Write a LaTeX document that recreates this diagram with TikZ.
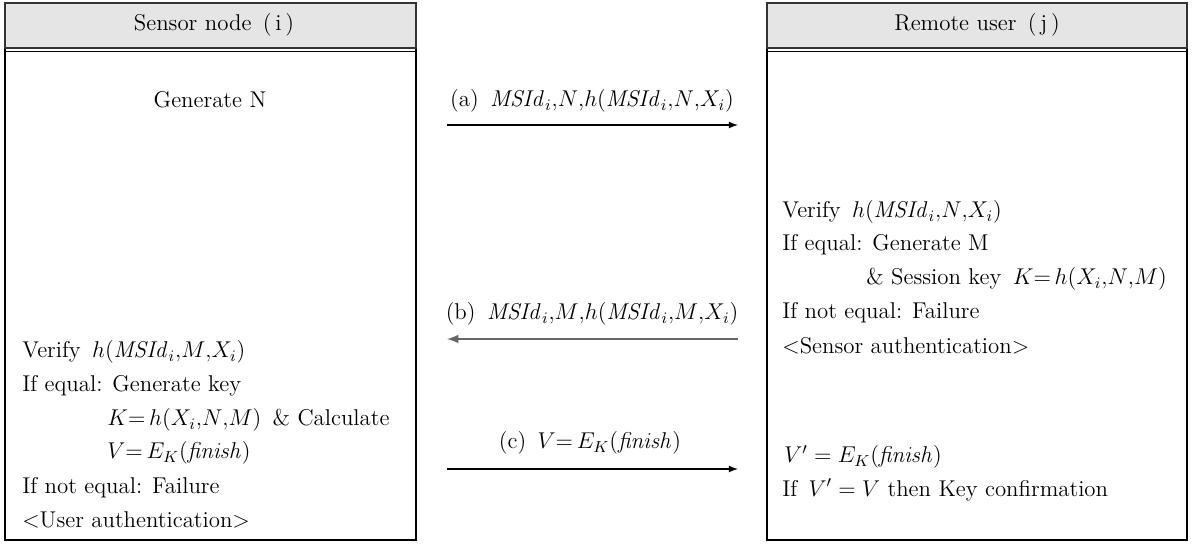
\RequirePackage{fix-cm}
\documentclass[tikz,border=0pt]{standalone}
\usepackage{amsmath}
\usetikzlibrary{calc}

\tikzset{
  headbox/.style={fill=gray!20, draw=black!80, line width=0.6pt},
  txt/.style={anchor=west, inner sep=0pt},
  msglabel/.style={inner sep=0pt},
}
\newcommand{\msid}{\mathit{MSId}_i}
\newcommand{\fin}{\mathit{finish}}

\begin{document}
\begin{tikzpicture}[x=0.02cm, y=-0.02cm, font=\fontsize{13}{16}\selectfont]

\useasboundingbox (0,0) rectangle (1192,546);

% Sensor node (left column)
\draw[line width=0.6pt] (5,3) rectangle (416,540);
\draw[headbox] (5,3) rectangle (416,48);
\draw[line width=0.4pt] (5,51) -- (416,51);
\node (sensorhead) at (214,25) {Sensor node\enspace(\,i\,)};

% Remote user (right column)
\draw[line width=0.6pt] (767,3) rectangle (1187,540);
\draw[headbox] (767,3) rectangle (1187,48);
\draw[line width=0.4pt] (767,51) -- (1187,51);
\node (userhead) at (977,25) {Remote user\enspace(\,j\,)};

% text in sensor column
\node (genN) at (210,100) {Generate N};
\node[txt] (sv1) at (22,352) {Verify\enspace$h({\msid}{,}M{,}X_i)$};
\node[txt] (sv2) at (22,386) {If equal: Generate key};
\node[txt] (sv3) at (107,420) {$K{=}\,h(X_i{,}N{,}M)$\enspace\& Calculate};
\node[txt] (sv4) at (107,453) {$V{=}\,E_K(\fin)$};
\node[txt] (sv5) at (22,488) {If not equal: Failure};
\node[txt] (sv6) at (22,520) {$<$User authentication$>$};

% text in user column
\node[txt] (uv1) at (782,212) {Verify\enspace$h({\msid}{,}N{,}X_i)$};
\node[txt] (uv2) at (782,245) {If equal: Generate M};
\node[txt] (uv3) at (866,279) {\& Session key\enspace$K{=}\,h(X_i{,}N{,}M)$};
\node[txt] (uv4) at (782,313) {If not equal: Failure};
\node[txt] (uv5) at (782,346) {$<$Sensor authentication$>$};
\node[txt] (uc1) at (784,457) {$V' = E_K(\fin)$};
\node[txt] (uc2) at (782,490) {If\enspace$V' = V$ then Key confirmation};

% messages
\coordinate (a1) at (447,125);
\coordinate (a2) at (738,125);
\coordinate (b1) at (738,339);
\coordinate (b2) at (447,339);
\coordinate (c1) at (447,469);
\coordinate (c2) at (738,469);

\draw[-latex, line width=0.8pt] (a1) -- (a2);
\node[msglabel] (ma) at (592,101) {(a)\enspace${\msid}{,}N{,}h({\msid}{,}N{,}X_i)$};

\draw[-latex, line width=1.2pt, gray!80!black] (b1) -- (b2);
\node[msglabel] (mb) at (592,314) {(b)\enspace${\msid}{,}M{,}h({\msid}{,}M{,}X_i)$};

\draw[-latex, line width=0.8pt] (c1) -- (c2);
\node[msglabel] (mc) at (590,443) {(c)\enspace$V{=}\,E_K(\fin)$};

\end{tikzpicture}
\end{document}
